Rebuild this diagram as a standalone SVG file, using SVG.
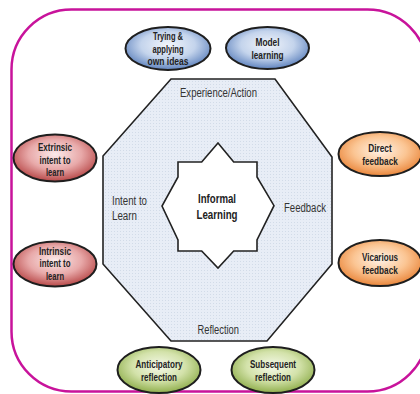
<svg xmlns="http://www.w3.org/2000/svg" width="420" height="394" viewBox="0 0 420 394">
<defs>
<radialGradient id="gBlue" cx="50%" cy="42%" r="58%"><stop offset="0" stop-color="#f2f5fb"/><stop offset="0.55" stop-color="#c4d4ec"/><stop offset="1" stop-color="#5f83be"/></radialGradient>
<radialGradient id="gRed" cx="50%" cy="42%" r="58%"><stop offset="0" stop-color="#fbeaea"/><stop offset="0.55" stop-color="#e8a9a9"/><stop offset="1" stop-color="#b84848"/></radialGradient>
<radialGradient id="gOrange" cx="50%" cy="42%" r="58%"><stop offset="0" stop-color="#fff3e8"/><stop offset="0.55" stop-color="#fbc593"/><stop offset="1" stop-color="#e9853a"/></radialGradient>
<radialGradient id="gGreen" cx="50%" cy="42%" r="58%"><stop offset="0" stop-color="#f5f9ea"/><stop offset="0.55" stop-color="#d3e2aa"/><stop offset="1" stop-color="#8fae4c"/></radialGradient>
<pattern id="dots" width="3" height="3" patternUnits="userSpaceOnUse"><rect width="3" height="3" fill="#e8edf6"/><rect width="1" height="1" fill="#d2dbe8"/></pattern>
<style>
.ell{stroke:#1e1e1e;stroke-width:2}
text{font-family:"Liberation Sans",Arial,sans-serif}
.lbl{font-weight:bold;font-size:11px;fill:#222;text-anchor:middle}
.oct{font-size:12.5px;fill:#333}
.ctr{font-weight:bold;font-size:13px;fill:#222;text-anchor:middle}
</style>
</defs>
<rect x="0" y="0" width="420" height="394" fill="#ffffff"/>
<rect id="frame" x="11.5" y="9.5" width="416" height="382" rx="60" ry="60" fill="none" stroke="#c8139b" stroke-width="2.5"/>
<g id="octagon">
<polygon points="171,79 275,79 332,157 332,264 267,341 171,341 103,264 103,156" fill="url(#dots)" stroke="#222" stroke-width="1.6"/>
<text class="oct" x="180" y="97" textLength="77" lengthAdjust="spacingAndGlyphs">Experience/Action</text>
<text class="oct" x="112" y="205" textLength="35" lengthAdjust="spacingAndGlyphs">Intent to</text>
<text class="oct" x="112" y="220" textLength="25" lengthAdjust="spacingAndGlyphs">Learn</text>
<text class="oct" x="284" y="212" textLength="42" lengthAdjust="spacingAndGlyphs">Feedback</text>
<text class="oct" x="197.5" y="334" textLength="41.5" lengthAdjust="spacingAndGlyphs">Reflection</text>
</g>
<g id="center">
<polygon points="218,143 233.7,162 257,162 257,177 274,205.7 257,240 257,251 233.7,251 218,268 201.7,251 178,251 178,240 162,206 178,177 178,162 201.7,162" fill="#ffffff" stroke="#222" stroke-width="1.6"/>
<text class="ctr" x="217" y="203" textLength="38" lengthAdjust="spacingAndGlyphs">Informal</text>
<text class="ctr" x="217" y="219" textLength="41" lengthAdjust="spacingAndGlyphs">Learning</text>
</g>
<g id="connectors"></g>
<g id="trying">
<ellipse class="ell" cx="168" cy="48.5" rx="42.5" ry="21.5" fill="url(#gBlue)"/>
<text class="lbl" x="168" y="40" textLength="30" lengthAdjust="spacingAndGlyphs">Trying &amp;</text>
<text class="lbl" x="168" y="52.5" textLength="31" lengthAdjust="spacingAndGlyphs">applying</text>
<text class="lbl" x="168" y="65" textLength="41" lengthAdjust="spacingAndGlyphs">own ideas</text>
</g>
<g id="model">
<ellipse class="ell" cx="267.5" cy="48" rx="41.5" ry="21" fill="url(#gBlue)"/>
<text class="lbl" x="267.5" y="46" textLength="24" lengthAdjust="spacingAndGlyphs">Model</text>
<text class="lbl" x="267.5" y="59" textLength="32" lengthAdjust="spacingAndGlyphs">learning</text>
</g>
<g id="extrinsic">
<ellipse class="ell" cx="55" cy="158" rx="41.5" ry="23.5" fill="url(#gRed)"/>
<text class="lbl" x="55" y="151" textLength="34" lengthAdjust="spacingAndGlyphs">Extrinsic</text>
<text class="lbl" x="55" y="163.5" textLength="31" lengthAdjust="spacingAndGlyphs">intent to</text>
<text class="lbl" x="55" y="176" textLength="18" lengthAdjust="spacingAndGlyphs">learn</text>
</g>
<g id="intrinsic">
<ellipse class="ell" cx="55" cy="264" rx="41.5" ry="22.5" fill="url(#gRed)"/>
<text class="lbl" x="55" y="254.5" textLength="32" lengthAdjust="spacingAndGlyphs">Intrinsic</text>
<text class="lbl" x="55" y="267" textLength="31" lengthAdjust="spacingAndGlyphs">intent to</text>
<text class="lbl" x="55" y="279.5" textLength="18" lengthAdjust="spacingAndGlyphs">learn</text>
</g>
<g id="direct">
<ellipse class="ell" cx="380" cy="154" rx="41.5" ry="22" fill="url(#gOrange)"/>
<text class="lbl" x="380" y="152" textLength="23.5" lengthAdjust="spacingAndGlyphs">Direct</text>
<text class="lbl" x="380" y="164.5" textLength="35.5" lengthAdjust="spacingAndGlyphs">feedback</text>
</g>
<g id="vicarious">
<ellipse class="ell" cx="380" cy="263" rx="41.5" ry="23" fill="url(#gOrange)"/>
<text class="lbl" x="380" y="261" textLength="36" lengthAdjust="spacingAndGlyphs">Vicarious</text>
<text class="lbl" x="380" y="273.5" textLength="35.5" lengthAdjust="spacingAndGlyphs">feedback</text>
</g>
<g id="anticipatory">
<ellipse class="ell" cx="159" cy="370" rx="41.5" ry="23" fill="url(#gGreen)"/>
<text class="lbl" x="159" y="368" textLength="47" lengthAdjust="spacingAndGlyphs">Anticipatory</text>
<text class="lbl" x="159" y="381" textLength="36" lengthAdjust="spacingAndGlyphs">reflection</text>
</g>
<g id="subsequent">
<ellipse class="ell" cx="273" cy="370" rx="41.5" ry="23" fill="url(#gGreen)"/>
<text class="lbl" x="273" y="368" textLength="46" lengthAdjust="spacingAndGlyphs">Subsequent</text>
<text class="lbl" x="273" y="381" textLength="36" lengthAdjust="spacingAndGlyphs">reflection</text>
</g>
</svg>
